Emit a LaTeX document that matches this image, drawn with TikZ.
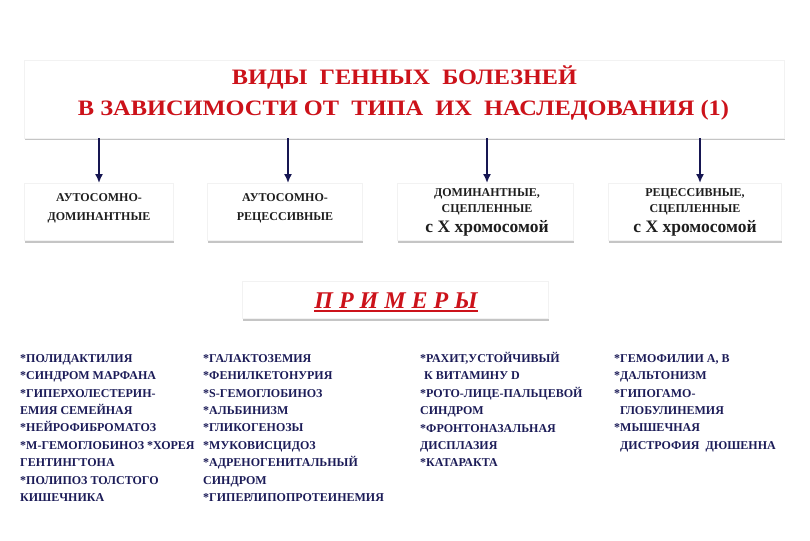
\documentclass[tikz,border=0pt]{standalone}
\usepackage{fontspec}
\setmainfont{Liberation Serif}
\usepackage{graphicx}
\usetikzlibrary{shadows,arrows.meta}
\definecolor{titlered}{RGB}{204,18,26}
\definecolor{navy}{RGB}{28,28,88}
\definecolor{arrnavy}{RGB}{22,22,82}
\definecolor{boxtxt}{RGB}{30,30,30}
\tikzset{
  panel/.style={draw=gray!10, fill=white, inner sep=0pt,
    drop shadow={shadow xshift=1.2pt, shadow yshift=-2.5pt, opacity=0.45, fill=gray}},
  ttl/.style={text=titlered, font=\fontsize{22}{22}\selectfont\bfseries, inner sep=0pt, anchor=base},
  btxt/.style={text=boxtxt, font=\fontsize{12}{12}\selectfont\bfseries, inner sep=0pt, anchor=base},
  btxtb/.style={text=boxtxt, font=\fontsize{17.5}{17.5}\selectfont\bfseries, inner sep=0pt, anchor=base},
  col/.style={text=navy, font=\fontsize{12}{17.4}\selectfont\bfseries, inner sep=0pt, anchor=north west, align=left},
  arr/.style={draw=arrnavy, line width=1.6pt, -{Latex[length=9pt,width=8pt]}},
}
\begin{document}
\begin{tikzpicture}[x=1pt,y=-1pt]
\fill[white] (0,0) rectangle (810,540);
\useasboundingbox (0,0) rectangle (810,540);

% title panel
\node[panel, minimum width=760pt, minimum height=78pt] (title) at (404,99) {};
\node[ttl] (t1) at (404.5,84.5) {\resizebox{345pt}{\height}{ВИДЫ\ \ ГЕННЫХ\ \ БОЛЕЗНЕЙ}};
\node[ttl] (t2) at (403.5,115.5) {\resizebox{651pt}{\height}{В ЗАВИСИМОСТИ ОТ\ \ ТИПА\ \ ИХ\ \ НАСЛЕДОВАНИЯ (1)}};

% category panels
\node[panel, minimum width=149pt, minimum height=57pt] (b1) at (98.5,211.5) {};
\node[panel, minimum width=155pt, minimum height=57pt] (b2) at (284.5,211.5) {};
\node[panel, minimum width=176pt, minimum height=57pt] (b3) at (485,211.5) {};
\node[panel, minimum width=173pt, minimum height=57pt] (b4) at (694.5,211.5) {};

\node[btxt] (b1a) at (99,201) {АУТОСОМНО-};
\node[btxt] (b1b) at (99,220) {ДОМИНАНТНЫЕ};
\node[btxt] (b2a) at (285,201) {АУТОСОМНО-};
\node[btxt] (b2b) at (285,220) {РЕЦЕССИВНЫЕ};
\node[btxt] (b3a) at (487,196) {ДОМИНАНТНЫЕ,};
\node[btxt] (b3b) at (487,212.5) {СЦЕПЛЕННЫЕ};
\node[btxtb] (b3c) at (487,232) {с Х хромосомой};
\node[btxt] (b4a) at (695,196) {РЕЦЕССИВНЫЕ,};
\node[btxt] (b4b) at (695,212.5) {СЦЕПЛЕННЫЕ};
\node[btxtb] (b4c) at (695,232) {с Х хромосомой};

% arrows
\coordinate (a1) at (99,183);
\coordinate (a2) at (288,183);
\coordinate (a3) at (487,183);
\coordinate (a4) at (700,183);
\draw[arr] (title.south -| a1) -- (a1);
\draw[arr] (title.south -| a2) -- (a2);
\draw[arr] (title.south -| a3) -- (a3);
\draw[arr] (title.south -| a4) -- (a4);

% examples panel
\node[panel, minimum width=306pt, minimum height=37pt] (ex) at (395,299.5) {};
\node[text=titlered, font=\fontsize{24}{24}\selectfont\bfseries\itshape, inner sep=0pt, anchor=base] (exl) at (396,308)
  {П Р И М Е Р Ы};
\draw[titlered, line width=2pt] (exl.base west) ++(0,2.8) coordinate (ul1) -- (exl.base east |- ul1);

% example columns
\node[col] (c1) at (20,352) {\rule{0pt}{10pt}*ПОЛИДАКТИЛИЯ\\
*СИНДРОМ МАРФАНА\\
*ГИПЕРХОЛЕСТЕРИН-\\
ЕМИЯ СЕМЕЙНАЯ\\
*НЕЙРОФИБРОМАТОЗ\\
*М-ГЕМОГЛОБИНОЗ *ХОРЕЯ\\
ГЕНТИНГТОНА\\
*ПОЛИПОЗ ТОЛСТОГО\\
КИШЕЧНИКА};

\node[col] (c2) at (203,352) {\rule{0pt}{10pt}*ГАЛАКТОЗЕМИЯ\\
*ФЕНИЛКЕТОНУРИЯ\\
*S-ГЕМОГЛОБИНОЗ\\
*АЛЬБИНИЗМ\\
*ГЛИКОГЕНОЗЫ\\
*МУКОВИСЦИДОЗ\\
*АДРЕНОГЕНИТАЛЬНЫЙ\\
СИНДРОМ\\
*ГИПЕРЛИПОПРОТЕИНЕМИЯ};

\node[col] (c3) at (420,352) {\rule{0pt}{10pt}*РАХИТ,УСТОЙЧИВЫЙ\\
\hspace*{4pt}К ВИТАМИНУ D\\
*РОТО-ЛИЦЕ-ПАЛЬЦЕВОЙ\\
СИНДРОМ\\
*ФРОНТОНАЗАЛЬНАЯ\\
ДИСПЛАЗИЯ\\
*КАТАРАКТА};

\node[col] (c4) at (614,352) {\rule{0pt}{10pt}*ГЕМОФИЛИИ А, В\\
*ДАЛЬТОНИЗМ\\
*ГИПОГАМО-\\
\hspace*{6pt}ГЛОБУЛИНЕМИЯ\\
*МЫШЕЧНАЯ\\
\hspace*{6pt}ДИСТРОФИЯ\ \ ДЮШЕННА};
\end{tikzpicture}
\end{document}
